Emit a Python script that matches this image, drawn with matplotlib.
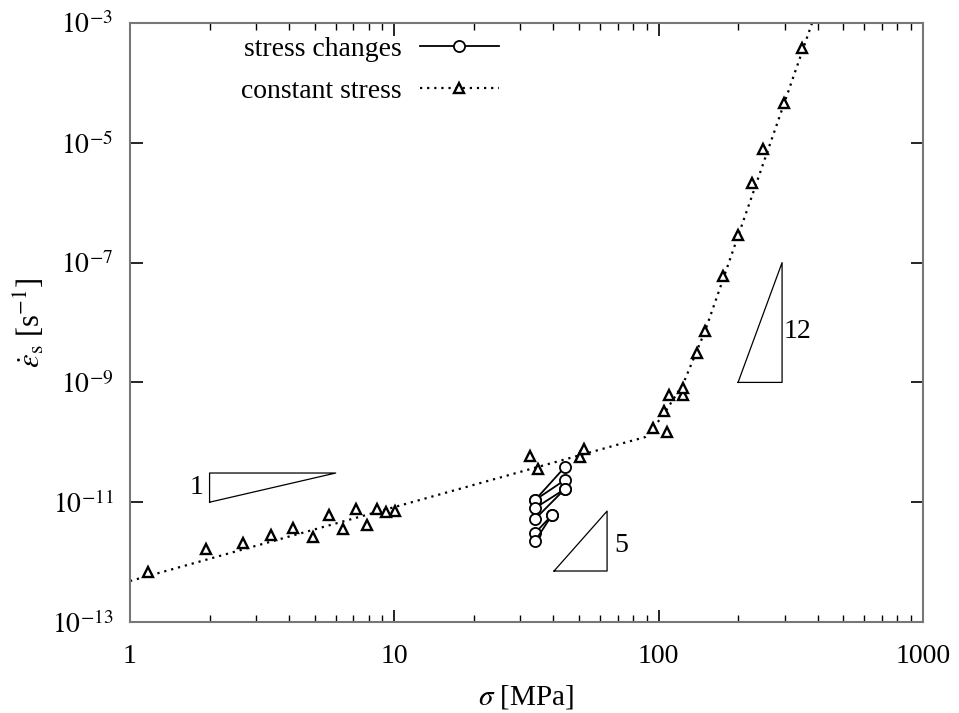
import numpy as np
import matplotlib
matplotlib.use("Agg")
import matplotlib.pyplot as plt
from matplotlib.ticker import FixedLocator, LogLocator, NullFormatter

plt.rcParams['font.family'] = ['Liberation Serif', 'DejaVu Serif']
plt.rcParams['mathtext.fontset'] = 'stix'

# constant stress tests (sigma in MPa, creep rate in 1/s)
cs_sigma = [1.17, 1.94, 2.68, 3.42, 4.14, 4.92, 5.66, 6.40, 7.16, 7.88, 8.60, 9.30, 10.06,
            32.6, 35.0, 50.4, 52.2,
            95.2, 104.8, 107.6, 109.5, 123.7, 123.7, 139.8, 149.8, 175.3, 199.7, 225.6,
            248.3, 298.2, 348.9]
cs_rate = [6.8e-13, 1.66e-12, 2.1e-12, 2.8e-12, 3.7e-12, 2.6e-12, 6.1e-12, 3.57e-12,
           7.7e-12, 4.17e-12, 7.7e-12, 6.9e-12, 7.1e-12,
           5.9e-11, 3.58e-11, 5.7e-11, 7.7e-11,
           1.73e-10, 3.33e-10, 1.49e-10, 6.17e-10, 6.2e-10, 8.07e-10, 3.1e-9, 7.2e-9,
           5.97e-8, 2.89e-7, 2.13e-6, 7.9e-6, 4.6e-5, 3.83e-4]

# fitted curve
fit_sigma = [1.0, 75.9, 88.8, 96.9, 107.6, 123.7, 149.8, 380.5]
fit_rate = [4.83e-13, 1.01e-10, 1.22e-10, 1.87e-10, 3.6e-10, 9.4e-10, 7.2e-9, 1e-3]

# stress change tests: (sigma before, rate before) -> (sigma after, rate after)
sc_sigma0 = [34.1, 34.1, 34.1, 34.1, 34.1, 34.1]
sc_rate0 = [1.09e-11, 1.09e-11, 8.0e-12, 5.25e-12, 3.06e-12, 2.25e-12]
sc_sigma1 = [44.2, 44.2, 44.2, 44.2, 39.5, 39.5]
sc_rate1 = [3.87e-11, 2.35e-11, 1.66e-11, 1.66e-11, 6.1e-12, 6.1e-12]

# slope triangles
tri1_x = [2.0, 6.0, 2.0, 2.0]
tri1_y = [1.0e-11, 3.07e-11, 3.07e-11, 1.0e-11]
tri5_x = [40.2, 63.8, 63.8, 40.2]
tri5_y = [7.1e-13, 7.1e-12, 7.1e-13, 7.1e-13]
tri12_x = [199.7, 293.0, 293.0, 199.7]
tri12_y = [1.0e-9, 1.0e-7, 1.0e-9, 1.0e-9]

fig = plt.figure(figsize=(9.59, 7.13), dpi=100)
ax = fig.add_axes([130 / 959, 1 - 622 / 713, 793 / 959, 599 / 713])

for i in range(len(sc_sigma0)):
    ax.plot([sc_sigma0[i], sc_sigma1[i]], [sc_rate0[i], sc_rate1[i]], '-', color='black', lw=1.3,
            marker='o', ms=8, mfc='white', mec='black', mew=1.3,
            label='stress changes' if i == 0 else None, zorder=3)

ax.plot(fit_sigma, fit_rate, color='black', lw=1.6, ls=(0, (1, 2.2)), zorder=2)
ax.plot(cs_sigma, cs_rate, ls='none', marker='^', ms=7, mfc='white', mec='black',
        mew=1.7, zorder=3)
# legend proxy for the constant stress series
ax.plot([], [], color='black', lw=1.6, ls=(0, (1, 2.2)), marker='^', ms=7, mfc='white',
        mec='black', mew=1.7, label='constant stress')

for tx, ty in [(tri1_x, tri1_y), (tri5_x, tri5_y), (tri12_x, tri12_y)]:
    ax.plot(tx, ty, color='black', lw=0.9)

ax.text(1.79, 1.75e-11, '1', fontsize=20, ha='center', va='center')
ax.text(72, 1.86e-12, '5', fontsize=20, ha='center', va='center')
ax.text(334, 7.0e-9, '12', fontsize=20, ha='center', va='center')

ax.set_xscale('log')
ax.set_yscale('log')
ax.set_xlim(1, 1000)
ax.set_ylim(1e-13, 1e-3)

ax.xaxis.set_major_locator(FixedLocator([1, 10, 100, 1000]))
ax.xaxis.set_minor_locator(LogLocator(base=10, subs=np.arange(2, 10)))
ax.xaxis.set_minor_formatter(NullFormatter())
ax.set_xticklabels(['1', '10', '100', '1000'])
yt = [1e-13, 1e-11, 1e-9, 1e-7, 1e-5, 1e-3]
ax.yaxis.set_major_locator(FixedLocator(yt))
ax.yaxis.set_minor_locator(FixedLocator([]))
ax.set_yticklabels([r'$10^{-13}$', r'$10^{-11}$', r'$10^{-9}$', r'$10^{-7}$',
                    r'$10^{-5}$', r'$10^{-3}$'])

ax.tick_params(which='both', direction='in', top=True, right=True, labelsize=20, color='black')
ax.tick_params(axis='x', which='major', length=9, width=1.2, pad=16)
ax.tick_params(axis='y', which='major', length=9, width=1.2, pad=12)
ax.tick_params(which='minor', length=5, width=1.0)
for sp in ax.spines.values():
    sp.set_color('#777777')
    sp.set_linewidth(1.5)

ax.set_xlabel(r'$\sigma$ [MPa]', fontsize=21, labelpad=10)
ax.set_ylabel(r'$\dot{\varepsilon}_{\mathrm{s}}$ [s$^{-1}$]', fontsize=22, labelpad=4)

ax.legend(loc='upper left', bbox_to_anchor=(0.140, 0.978), frameon=False, markerfirst=False,
          fontsize=20, handlelength=2.85, handletextpad=0.65, labelspacing=0.6,
          borderpad=0, borderaxespad=0)

fig.savefig('out.png', dpi=100)
